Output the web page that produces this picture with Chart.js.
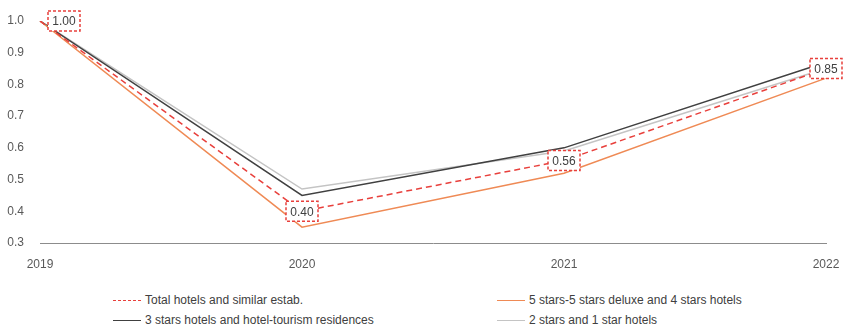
<!DOCTYPE html>
<html>
<head>
<meta charset="utf-8">
<script src="https://cdn.jsdelivr.net/npm/chart.js@4"></script>
<style>
    body { margin: 0; background: #fff; font-family: 'Liberation Sans Narrow', 'Liberation Sans', sans-serif; }
    #wrap { position: relative; width: 848px; height: 332px; }
    #box { position: absolute; left: 0; top: 0; width: 848px; height: 270px; }
    #legend { position: absolute; left: 113px; top: 292px; width: 700px; display: grid;
        grid-template-columns: 384px 300px; row-gap: 4px; font-size: 12px; color: #404040; }
    .item { display: flex; align-items: center; height: 16px; }
    .swatch { width: 28px; margin-right: 4px; height: 0; }
</style>
</head>
<body>
<div id="wrap">
    <div id="box"><canvas id="myChart"></canvas></div>
    <div id="legend"></div>
</div>
<script>
/* Data */

const years = ['2019', '2020', '2021', '2022']
const totalHotels = [1.00, 0.40, 0.56, 0.85]
const fiveFourStars = [1.00, 0.35, 0.52, 0.82]
const threeStars = [1.00, 0.45, 0.60, 0.87]
const twoOneStars = [1.00, 0.47, 0.59, 0.85]
const yTicks = [0.3, 0.4, 0.5, 0.6, 0.7, 0.8, 0.9, 1.0]

/* Dashed boxes with the value of the total series */

const valueBoxes = {
    id: 'valueBoxes',
    afterDatasetsDraw(chart) {
        const ctx = chart.ctx
        const meta = chart.getDatasetMeta(0)
        ctx.save()
        ctx.font = '12px "Liberation Sans Narrow", "Liberation Sans", sans-serif'
        ctx.textAlign = 'center'
        ctx.textBaseline = 'middle'
        meta.data.forEach((pt, i) => {
            const x = pt.x + (i === 0 ? 24 : 0)
            const y = pt.y
            const w = 32, h = 20
            ctx.fillStyle = '#fff'
            ctx.fillRect(x - w / 2, y - h / 2, w, h)
            ctx.setLineDash([3, 2])
            ctx.strokeStyle = '#e8403c'
            ctx.lineWidth = 1.5
            ctx.strokeRect(x - w / 2, y - h / 2, w, h)
            ctx.fillStyle = '#404040'
            ctx.fillText(totalHotels[i].toFixed(2), x, y + 1)
        })
        ctx.restore()
    }
}

const ctx = document.getElementById('myChart');
const chart = new Chart(ctx, {
    type: 'line',
    data: {
        labels: years,
        datasets: [
            {
                label: 'Total hotels and similar estab.',
                data: totalHotels,
                borderColor: '#e8403c',
                borderWidth: 1.5,
                borderDash: [6, 4],
                order: 0
            },
            {
                label: '5 stars-5 stars deluxe and 4 stars hotels',
                data: fiveFourStars,
                borderColor: '#ef8a55',
                borderWidth: 1.5,
                order: 1
            },
            {
                label: '3 stars hotels and hotel-tourism residences',
                data: threeStars,
                borderColor: '#404040',
                borderWidth: 1.5,
                order: 2
            },
            {
                label: '2 stars and 1 star hotels',
                data: twoOneStars,
                borderColor: '#c4c4c4',
                borderWidth: 1.5,
                order: 3
            }
        ]
    },
    options: {
        responsive: true,
        maintainAspectRatio: false,
        animation: false,
        elements: {point: {radius: 0}, line: {tension: 0}},
        layout: {padding: {top: 21, right: 22, left: 0, bottom: 0}},
        scales: {
            y: {
                min: 0.3,
                max: 1.0,
                afterBuildTicks: (scale) => { scale.ticks = yTicks.map(v => ({value: v})) },
                afterFit: (scale) => { scale.width = 40 },
                grid: {display: false},
                border: {display: false},
                ticks: {
                    color: '#595959',
                    padding: 8,
                    font: {family: '"Liberation Sans Narrow", "Liberation Sans", sans-serif', size: 12},
                    callback: (v) => Number(v).toFixed(1)
                }
            },
            x: {
                afterFit: (scale) => { scale.height = 27 },
                grid: {display: false},
                border: {display: true, color: '#8c8c8c', width: 1},
                ticks: {
                    color: '#595959',
                    padding: 6,
                    maxRotation: 0,
                    font: {family: '"Liberation Sans Narrow", "Liberation Sans", sans-serif', size: 12}
                }
            }
        },
        plugins: {
            legend: {display: false},
            tooltip: {enabled: false}
        }
    },
    plugins: [valueBoxes]
});

/* Legend */

const legendEl = document.getElementById('legend')
chart.data.datasets.forEach((ds) => {
    const item = document.createElement('div')
    item.className = 'item'
    const sw = document.createElement('div')
    sw.className = 'swatch'
    sw.style.borderTop = '1.5px ' + (ds.borderDash ? 'dashed ' : 'solid ') + ds.borderColor
    item.appendChild(sw)
    item.appendChild(document.createTextNode(ds.label))
    legendEl.appendChild(item)
})
</script>
</body>
</html>
